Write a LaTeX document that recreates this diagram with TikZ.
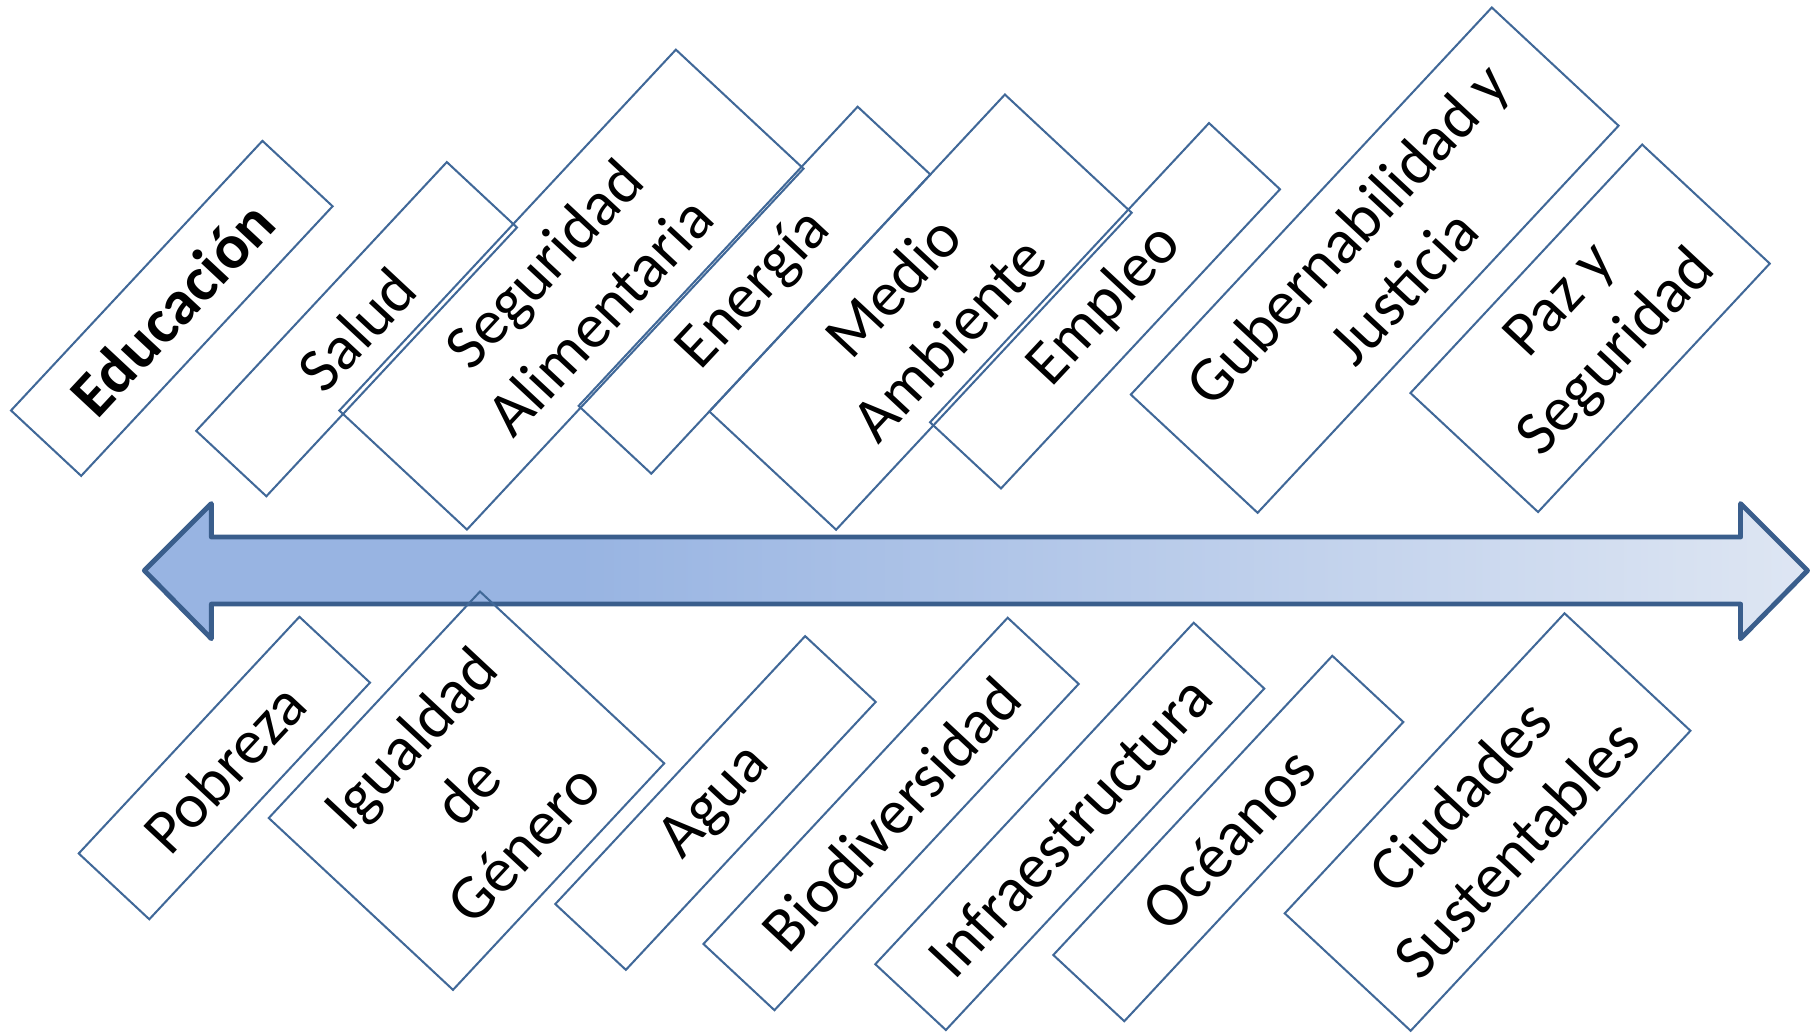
\documentclass[tikz,border=0pt]{standalone}
\usepackage{fontspec}
\setmainfont{Carlito}
\definecolor{lineabox}{RGB}{64,104,152}
\definecolor{bordeflecha}{RGB}{58,94,140}
\definecolor{azulA}{RGB}{152,180,226}
\definecolor{azulB}{RGB}{222,230,243}
\pgfdeclarehorizontalshading{flecha}{100bp}{color(0bp)=(azulA); color(38bp)=(azulA); color(75bp)=(azulB); color(100bp)=(azulB)}
\tikzset{
  tema/.style={draw=lineabox, line width=0.5pt, rotate=47, inner sep=0pt, align=center, font=\fontsize{15.6}{19}\selectfont},
}

\begin{document}
\begin{tikzpicture}[x=0.01cm, y=-0.01cm]
		%%%%% START %%%%%
		\useasboundingbox (0,0) rectangle (1568,894);
		
		% flecha doble
		\draw[line width=1.2pt, draw=bordeflecha, line join=round, shading=flecha]
			(125,494) -- (183,436) -- (183,465) -- (1507,465) -- (1507,436) -- (1565,494)
			-- (1507,553) -- (1507,523) -- (183,523) -- (183,553) -- cycle;
		
		% fila de arriba
		\node[tema, minimum width=3.19cm, minimum height=0.83cm] (educacion) at (148.75,267) {\textbf{Educación}};
		\node[tema, minimum width=3.18cm, minimum height=0.83cm] (salud) at (308.75,285) {Salud};
		\node[tema, minimum width=4.27cm, minimum height=1.51cm] (seguridad) at (494.75,250.75) {Seguridad\\Alimentaria};
		\node[tema, minimum width=3.54cm, minimum height=0.86cm] (energia) at (653.25,251.25) {Energía};
		\node[tema, minimum width=3.75cm, minimum height=1.50cm] (medio) at (797,270.25) {Medio\\Ambiente};
		\node[tema, minimum width=3.54cm, minimum height=0.84cm] (empleo) at (956.75,264.75) {Empleo};
		\node[tema, minimum width=4.58cm, minimum height=1.50cm] (gobierno) at (1190.25,225.25) {Gubernabilidad y\\Justicia};
		\node[tema, minimum width=2.94cm, minimum height=1.51cm] (paz) at (1376.75,284.25) {Paz y\\Seguridad};
		
		% fila de abajo
		\node[tema, minimum width=2.80cm, minimum height=0.835cm] (pobreza) at (194.25,665) {Pobreza};
		\node[tema, minimum width=2.68cm, minimum height=2.18cm] (igualdad) at (403.9,684.6) {Igualdad\\de\\Género};
		\node[tema, minimum width=3.17cm, minimum height=0.835cm] (agua) at (619.5,695.25) {Agua};
		\node[tema, minimum width=3.86cm, minimum height=0.84cm] (biodiv) at (771.5,704.75) {Biodiversidad};
		\node[tema, minimum width=4.04cm, minimum height=0.835cm] (infra) at (926.25,715.5) {Infraestructura};
		\node[tema, minimum width=3.54cm, minimum height=0.84cm] (oceanos) at (1063.5,726) {Océanos};
		\node[tema, minimum width=3.55cm, minimum height=1.49cm] (ciudades) at (1288,711.75) {Ciudades\\Sustentables};
		
		%%%%% END %%%%%
\end{tikzpicture}
\end{document}
